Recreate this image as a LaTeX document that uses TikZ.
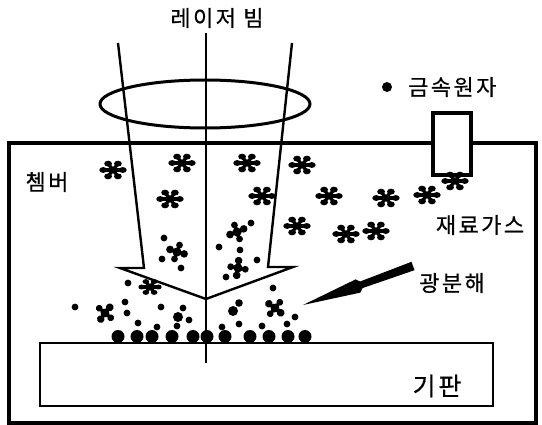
\documentclass[tikz,border=0pt]{standalone}
\usepackage{fontspec}
\setmainfont{Noto Sans CJK KR}
\newfontfamily\krfont[LetterSpace=11, FakeBold=0.6]{Noto Sans CJK KR}
\begin{document}
\begin{tikzpicture}[x=1pt,y=-1pt,
  label/.style={inner sep=0pt, font=\krfont\fontsize{22}{26}\selectfont},
  wall/.style={line width=3.5pt},
  beam/.style={line width=2.4pt, line join=miter},
  gas/.pic={
    \begin{scope}[yscale=0.75]
      \fill (0,0) circle (4.4);
      \foreach \a in {0,60,...,300}{
        \draw[line width=3.4pt] (0,0) -- (\a:8.5);
        \fill (\a:9.8) circle (3.9);
      }
    \end{scope}
  },
  frag/.pic={
    \fill (0,0) circle (4.6);
    \foreach \a/\r in {15/3.8, 110/3.4, 200/3.9, 290/3.4}{
      \draw[line width=3pt] (0,0) -- (\a:6);
      \fill (\a:7.4) circle (\r);
    }
  }
]
\useasboundingbox (0,0) rectangle (542,425);

% chamber wall and substrate
\draw[wall] (9,143) rectangle (536,423);
\draw[line width=2pt] (40,343) rectangle (493,406);

% laser beam: optical axis, lens and arrow-shaped beam outline
\draw[line width=2.2pt] (206,33) -- (206,363);
\draw[line width=3pt] (205,104) ellipse [x radius=105, y radius=24];
\draw[beam] (118,43) -- (144,268) -- (120,268) -- (206,299) -- (293,267) -- (268,267) -- (292,43);

% metal atom source on the chamber wall
\draw[line width=4.5pt, fill=white] (433,113) rectangle (471,175);

% gas molecules
\foreach \p in {(113,170),(182,163),(247,163),(302,165),(170,199),(262,196),
                (329,196),(386,198),(427,195),(455,181),(297,226),(346,234),(376,231)}
  \pic at \p {gas};
\pic[scale=0.85] at (150,287) {gas};

% photolysis fragments
\pic at (177,252) {frag};
\pic[rotate=40] at (237,232) {frag};
\pic[rotate=100] at (238,268) {frag};
\pic[rotate=250] at (105,313) {frag};
\pic[rotate=160] at (275,308) {frag};
\fill (233,311) circle (5) (239,303) circle (3.8) (178,317) circle (5);

% free atoms
\foreach \p in {(164,238),(162,259),(181,268),(251,223),(219,247),(240,250),(257,260),
                (226,277),(273,288),(128,283),(75,307),(125,302),(127,313),(161,307),
                (183,308),(189,320),(138,323),(157,327),(177,326),(295,317),(239,324),
                (222,327),(287,324),(262,326)}
  \fill \p circle (3.4);

% deposited layer on the substrate
\foreach \x in {118,137,152,172,193,207,225,250,269,288,305}
  \fill (\x,336.5) circle (6.5);

% photolysis pointer
\fill (411.5,261.8) -- (360.1,281.5) -- (355.6,279.4) -- (303,305)
      -- (360.4,292.6) -- (362.5,288.1) -- (414.5,270.2) -- cycle;

% labels
\node[label] (laser) at (217,18) {레이저 빔};
\fill (387,87) circle (5);
\node[label, anchor=west] (metal) at (408,87) {금속원자};
\node[label] (chamber) at (47,182) {쳄버};
\node[label] (gaslbl) at (480,225) {재료가스};
\node[label] (photo) at (452,283) {광분해};
\node[label, font=\krfont\fontsize{25}{29}\selectfont] (substrate) at (437,386) {기판};
\end{tikzpicture}
\end{document}
